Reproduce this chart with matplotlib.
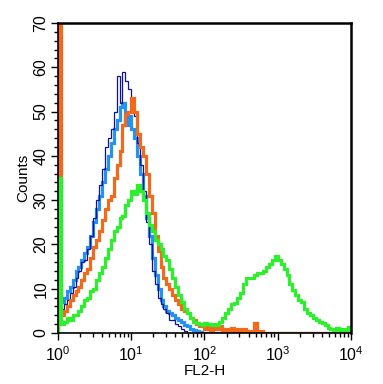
import numpy as np
import matplotlib.pyplot as plt
from matplotlib.ticker import MultipleLocator

plt.rcParams['font.family'] = ['Liberation Sans', 'DejaVu Sans']

# channel edges in log10 units (25 channels per decade, 10^0 .. 10^4)
log_edges = np.linspace(0, 4, 101)

# counts per channel (channels not listed are 0)
navy_counts = [4, 5.5, 6.5, 7.5, 9, 10.5, 12.5, 14, 16, 16.5,
               19, 22, 26, 30, 33.5, 37, 42, 44, 46, 50,
               58, 52, 59, 57, 55, 52, 49, 43, 38, 32,
               25, 20, 14, 11, 8, 6.5, 5.5, 4.5, 3, 3,
               2, 1.5, 1, 0.5]

light_blue_counts = [38, 7, 8, 9.5, 10.5, 12, 14, 15, 16.5, 18,
                     19.5, 22, 25, 28, 31, 34, 37, 40, 43, 46,
                     48, 51, 52, 47, 49, 46, 44, 40, 36, 31,
                     26, 22, 17, 13, 10, 7.5, 6, 5, 4.5, 4,
                     3.5, 3, 2.5, 1.8, 1.5, 1, 0.7, 0.5, 0.3]

orange_counts = [72, 4, 5, 6, 7.5, 8.5, 9.5, 10.5, 12, 13.5,
                 14.5, 17, 19.5, 21, 23, 25.5, 28, 30, 31, 35,
                 38, 41, 47, 49.5, 50, 53, 50, 45, 42, 40,
                 36, 31, 27, 22, 18.5, 15, 12.5, 11, 10, 8.5,
                 7.5, 6.5, 5.5, 5, 4.5, 3.5, 3, 2, 1.5, 2,
                 0.8, 1.5, 0.5, 1.2, 0.8, 1.5, 0.5, 1, 0.3, 1.2,
                 0.5, 0.8, 0.3, 1, 0.3, 0.5, 0.4, 2.2, 0.3, 0.5]

green_counts = [35, 2, 2.5, 3.5, 3, 4, 4, 5, 6, 7.5,
                8, 9.5, 10, 12, 13.5, 15, 17, 19, 21, 23,
                24, 26, 26.5, 29, 30, 32, 31.5, 33.5, 32, 30,
                27, 24.5, 23, 21, 20, 19, 17.5, 16.5, 14.5, 12.5,
                10.5, 8.5, 7, 5.5, 4.5, 3.5, 2.5, 2.2, 2, 1.8,
                2.2, 2, 1.8, 2, 1.8, 2.5, 3.5, 4.5, 5.5, 6.5,
                6.8, 8, 9, 11, 12.4, 12.5, 12.4, 13, 13.5, 13.5,
                14, 15, 15.5, 16.5, 17.5, 16.5, 15.5, 14.5, 13, 11,
                9.7, 8.5, 7.5, 7, 5.5, 4.5, 4, 3.5, 3, 2.5,
                2.2, 1.8, 1.2, 1, 0.7, 1.2, 0.5, 1, 0.7, 1.3]

series = [
    (light_blue_counts, '#2492ee', 2.3),
    (navy_counts, '#10109c', 0.9),
    (orange_counts, '#f2691c', 2.3),
    (green_counts, '#2bf02b', 2.3),
]

fig = plt.figure(figsize=(3.83, 3.84), dpi=100)
ax = fig.add_axes([0.1514, 0.1328, 0.765, 0.8072])

edges = 10 ** log_edges
for counts, color, lw in series:
    full = np.zeros(len(edges) - 1)
    full[:len(counts)] = counts
    ax.stairs(full, edges, baseline=0, color=color, linewidth=lw)

ax.set_xscale('log')
ax.set_xlim(1, 1e4)
ax.set_ylim(0, 70)
ax.yaxis.set_major_locator(MultipleLocator(10))
ax.yaxis.set_minor_locator(MultipleLocator(2))

ax.tick_params(which='both', direction='out', top=False, right=False,
               labelsize=11.5, width=1)
ax.tick_params(which='major', length=5)
ax.tick_params(which='minor', length=3)
ax.tick_params(axis='y', labelrotation=90, pad=2)
ax.tick_params(axis='x', pad=4)
for lab in ax.get_yticklabels():
    lab.set_verticalalignment('center')

for side in ['left', 'bottom']:
    ax.spines[side].set_linewidth(1.2)
for side in ['top', 'right']:
    ax.spines[side].set_linewidth(1.8)

ax.set_xlabel('FL2-H', fontsize=11, labelpad=0)
ax.set_ylabel('Counts', fontsize=11, labelpad=2)

fig.savefig('out.png', dpi=100)
